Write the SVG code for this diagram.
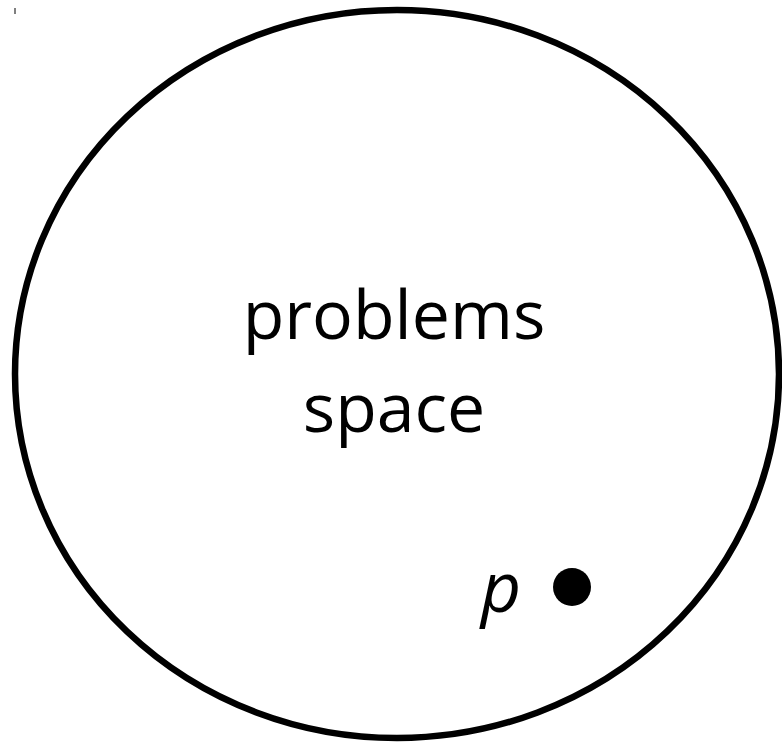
<svg xmlns="http://www.w3.org/2000/svg" width="782" height="742" viewBox="0 0 782 742">
<style>
.lbl{font-family:"Open Sans","Noto Sans","DejaVu Sans",sans-serif;font-size:68px;fill:#000;text-anchor:middle}
</style>
<rect width="782" height="742" fill="#fff"/>
<line x1="15" y1="8" x2="15" y2="14" stroke="#000" stroke-width="1"/>
<g id="space">
<ellipse cx="397" cy="374" rx="382" ry="364" fill="none" stroke="#000" stroke-width="6.5"/>
<text class="lbl" x="394" y="339">problems</text>
<text class="lbl" x="394" y="432">space</text>
</g>
<g id="p">
<text x="501" y="612" font-family="Open Sans, Noto Sans, sans-serif" font-style="italic" font-size="70" text-anchor="middle">p</text>
<circle cx="572" cy="587" r="19" fill="#000"/>
</g>
</svg>
